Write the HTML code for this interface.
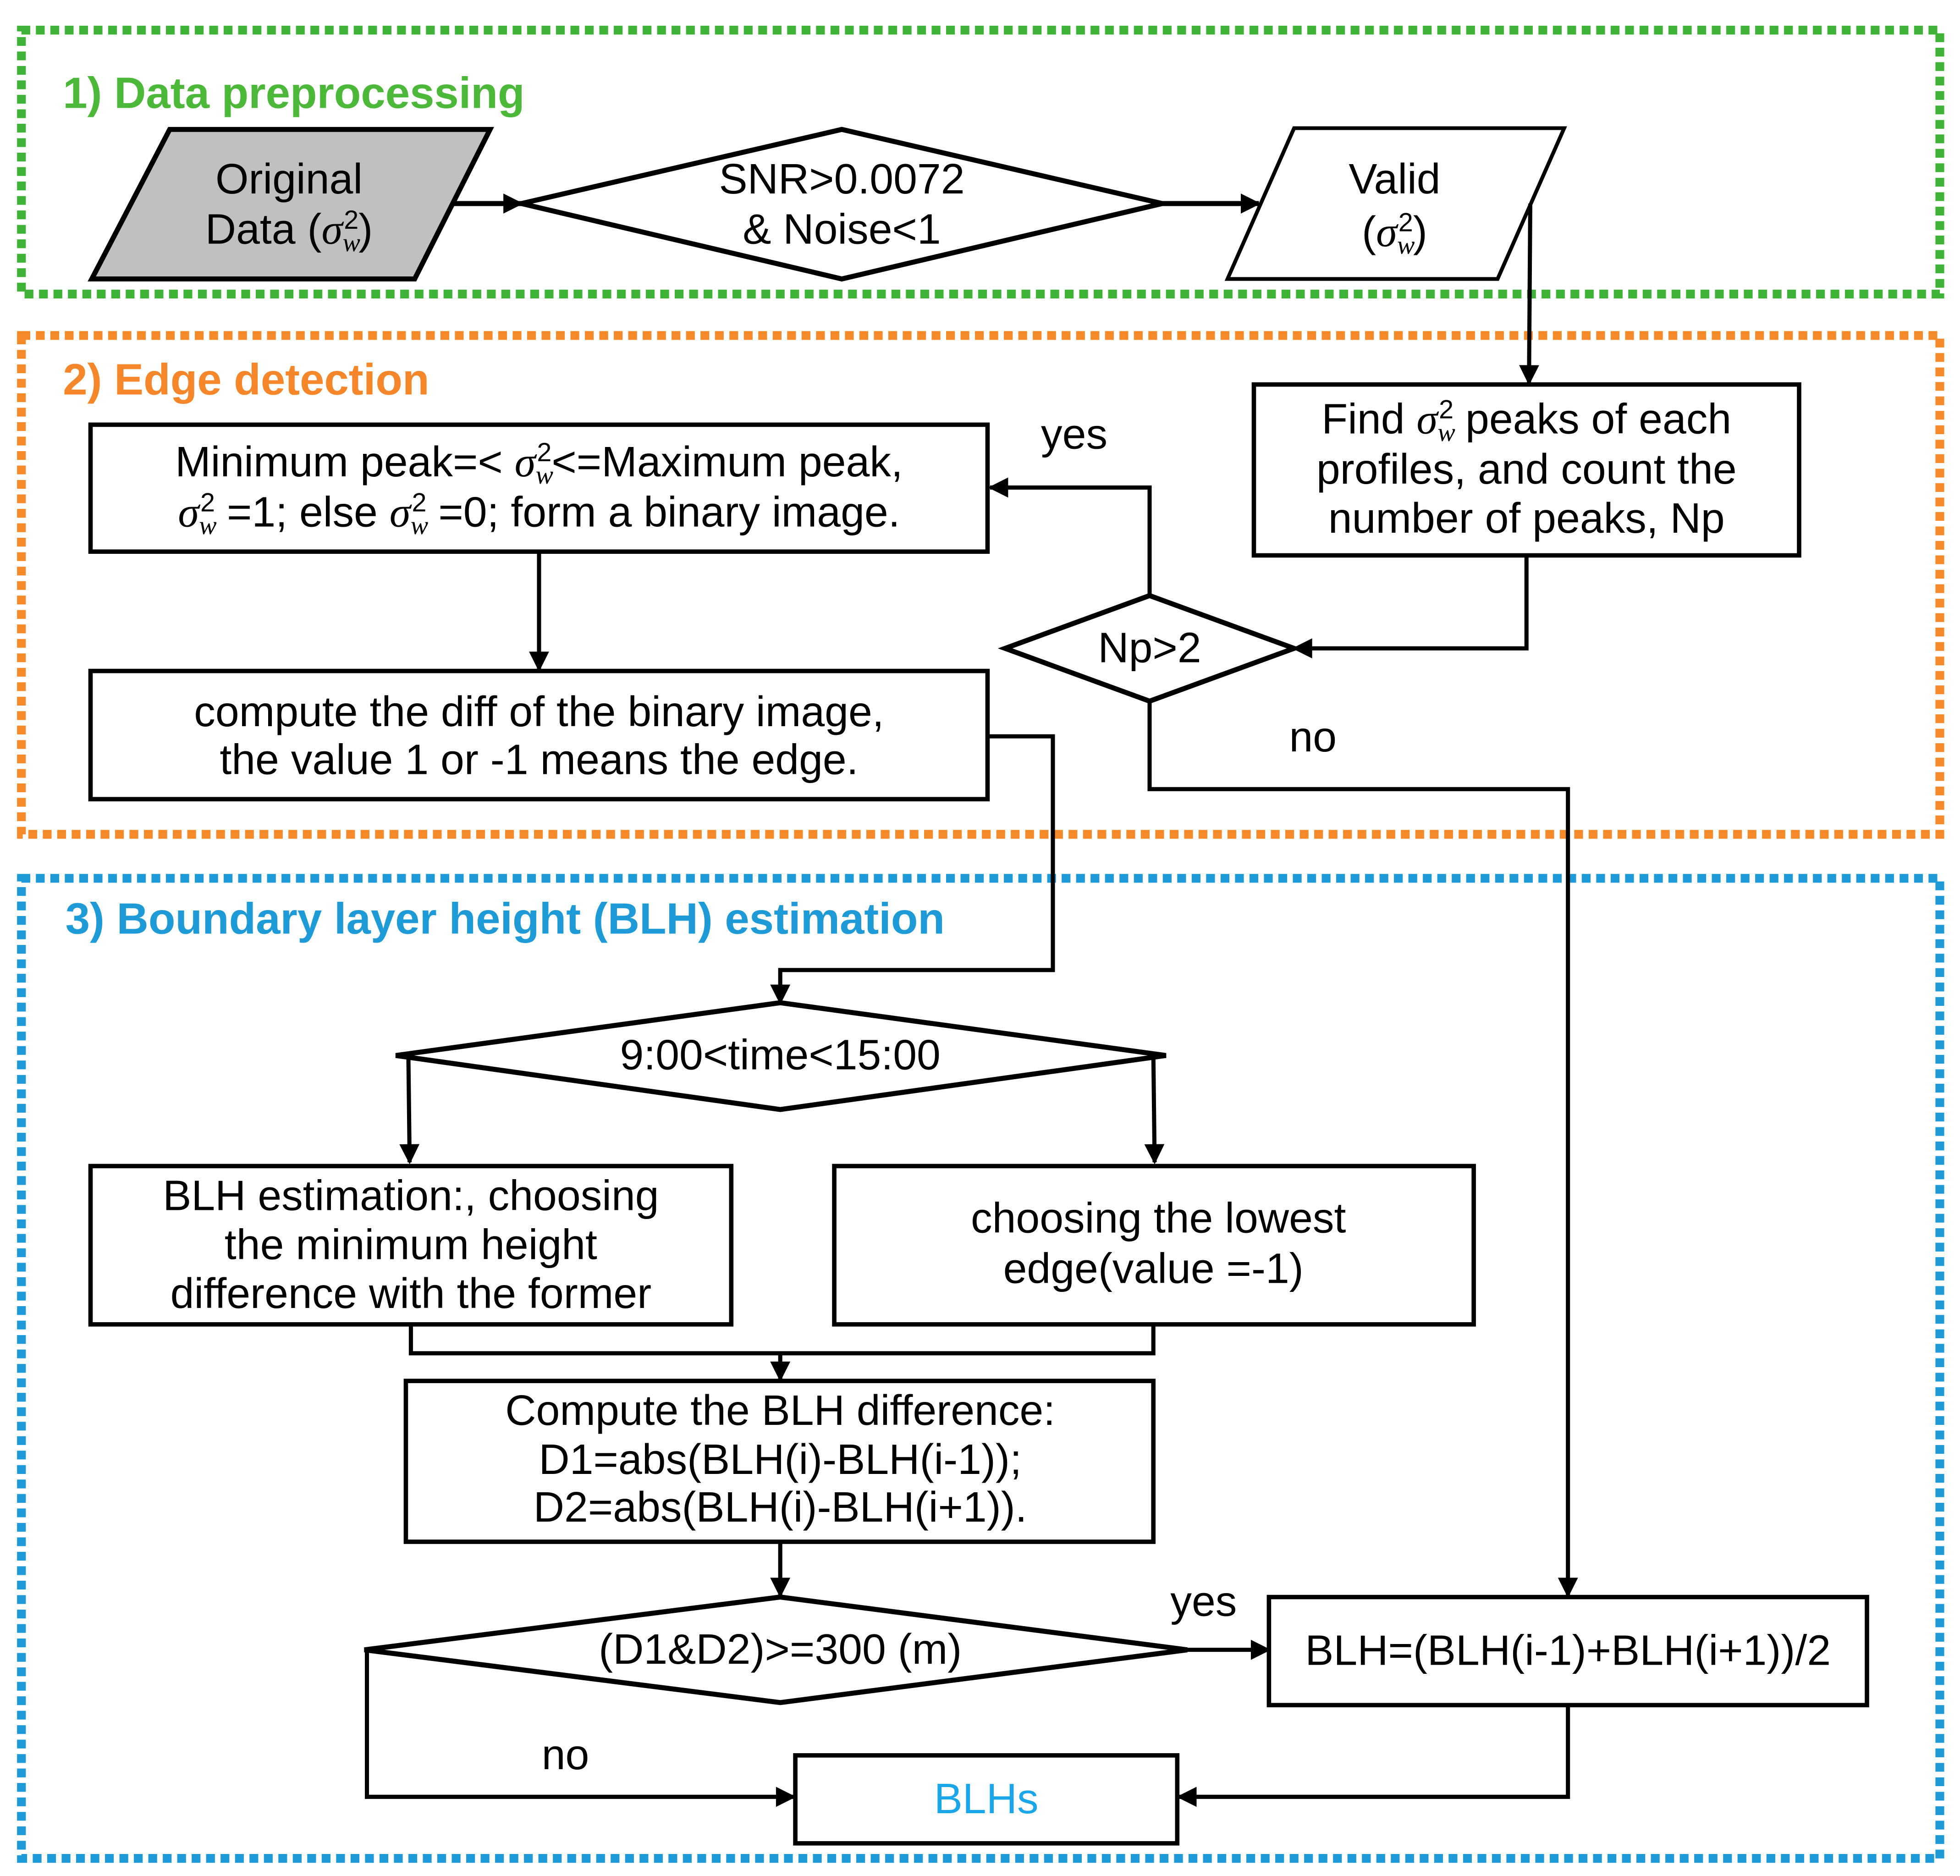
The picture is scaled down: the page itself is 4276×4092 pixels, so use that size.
<!DOCTYPE html>
<html><head><meta charset="utf-8"><style>
html,body{margin:0;padding:0;background:#fff;}
svg{display:block;}
text{font-family:"Liberation Sans","DejaVu Sans",sans-serif;}
</style></head><body>
<svg width="4276" height="4092" viewBox="0 0 1560 1493" xmlns="http://www.w3.org/2000/svg">
<defs>
<marker id="b" viewBox="0 0 10 10" markerWidth="18" markerHeight="16" refX="9" refY="5" orient="auto" markerUnits="userSpaceOnUse">
<path d="M0,0 L10,5 L0,10 z" fill="#000"/></marker>
</defs>
<rect width="1560" height="1493" fill="#fff"/>
<rect x="17" y="24" width="1527" height="210" fill="none" stroke="#3fb337" stroke-width="7" stroke-dasharray="7 4.5"/>
<rect x="17" y="267" width="1527" height="397" fill="none" stroke="#f58a2a" stroke-width="7" stroke-dasharray="7 4.5"/>
<rect x="17" y="699" width="1527" height="780" fill="none" stroke="#1f9ad8" stroke-width="7" stroke-dasharray="7 4.5"/>
<g font-weight="bold" font-size="35">
<text x="50" y="86" fill="#4cb83a">1)  Data preprocessing</text>
<text x="50" y="314" fill="#f5862a">2)  Edge detection</text>
<text x="52" y="743" fill="#1e9ad6">3)  Boundary layer height (BLH) estimation</text>
</g>
<g stroke="#000" stroke-width="4" fill="#fff">
<polygon points="135,103 390,103 330,222 73,222" fill="#c0c0c0"/>
<polygon points="415,162 670,103 925,162 670,222"/>
<polygon points="1030,102 1245,102 1192,222 977,222" stroke-width="3"/>
<rect x="998" y="306" width="434" height="136" stroke-width="3.5"/>
<rect x="72" y="338" width="714" height="101" stroke-width="3.5"/>
<polygon points="800,516 915,474 1030,516 915,558"/>
<rect x="72" y="534" width="714" height="102" stroke-width="3.5"/>
<polygon points="315,840 621,798 928,840 621,883"/>
<rect x="72" y="928" width="510" height="126" stroke-width="3.5"/>
<rect x="664" y="928" width="509" height="126" stroke-width="3.5"/>
<rect x="323" y="1099" width="595" height="128" stroke-width="3.5"/>
<polygon points="290,1313 621,1271 945,1313 621,1355"/>
<rect x="1010" y="1271" width="476" height="86" stroke-width="3.5"/>
<rect x="633" y="1397" width="304" height="70" stroke-width="3.5"/>
</g>
<g stroke="#000" stroke-width="3.3" fill="none">
<line x1="360" y1="162" x2="415" y2="162" stroke-width="4" marker-end="url(#b)"/>
<line x1="925" y1="162" x2="1002" y2="162" stroke-width="4" marker-end="url(#b)"/>
<polyline points="1218,162 1217,305" marker-end="url(#b)"/>
<polyline points="1215,442 1215,516 1030,516" marker-end="url(#b)"/>
<polyline points="915,474 915,388 788,388" marker-end="url(#b)"/>
<polyline points="429,439 429,533" marker-end="url(#b)"/>
<polyline points="786,586 838,586 838,772 621,772 621,798" marker-end="url(#b)"/>
<polyline points="915,558 915,628 1248,628 1248,1270" marker-end="url(#b)"/>
<polyline points="325,840 326,925" marker-end="url(#b)"/>
<polyline points="918,840 919,925" marker-end="url(#b)"/>
<polyline points="327,1054 327,1077 918,1077 918,1054"/>
<polyline points="621,1077 621,1098" marker-end="url(#b)"/>
<polyline points="621,1227 621,1270" marker-end="url(#b)"/>
<polyline points="945,1313 1010,1313" marker-end="url(#b)"/>
<polyline points="292,1313 292,1430 632,1430" marker-end="url(#b)"/>
<polyline points="1248,1357 1248,1430 938,1430" marker-end="url(#b)"/>
</g>
<g font-size="34" text-anchor="middle" fill="#000">
<text x="230" y="154">Original</text>
<text x="230" y="194">Data (<tspan font-family="Liberation Serif" font-style="italic">σ</tspan><tspan font-family="Liberation Serif" font-style="italic" font-size="21" dy="6">w</tspan><tspan font-size="21" dx="-13" dy="-18">2</tspan><tspan dy="12">)</tspan></text>
<text x="670" y="154">SNR&gt;0.0072</text>
<text x="670" y="194">&amp; Noise&lt;1</text>
<text x="1110" y="154">Valid</text>
<text x="1110" y="196">(<tspan font-family="Liberation Serif" font-style="italic">σ</tspan><tspan font-family="Liberation Serif" font-style="italic" font-size="21" dy="6">w</tspan><tspan font-size="21" dx="-13" dy="-18">2</tspan><tspan dy="12">)</tspan></text>
<text x="1215" y="345">Find <tspan font-family="Liberation Serif" font-style="italic">σ</tspan><tspan font-family="Liberation Serif" font-style="italic" font-size="21" dy="6">w</tspan><tspan font-size="21" dx="-13" dy="-18">2</tspan><tspan dy="12"> peaks of each</tspan></text>
<text x="1215" y="385">profiles, and count the</text>
<text x="1215" y="424">number of peaks, Np</text>
<text x="429" y="379">Minimum peak=&lt; <tspan font-family="Liberation Serif" font-style="italic">σ</tspan><tspan font-family="Liberation Serif" font-style="italic" font-size="21" dy="6">w</tspan><tspan font-size="21" dx="-13" dy="-18">2</tspan><tspan dy="12">&lt;=Maximum peak,</tspan></text>
<text x="429" y="419"><tspan font-family="Liberation Serif" font-style="italic">σ</tspan><tspan font-family="Liberation Serif" font-style="italic" font-size="21" dy="6">w</tspan><tspan font-size="21" dx="-13" dy="-18">2</tspan><tspan dy="12"> =1; else </tspan><tspan font-family="Liberation Serif" font-style="italic">σ</tspan><tspan font-family="Liberation Serif" font-style="italic" font-size="21" dy="6">w</tspan><tspan font-size="21" dx="-13" dy="-18">2</tspan><tspan dy="12"> =0; form a binary image.</tspan></text>
<text x="855" y="357">yes</text>
<text x="915" y="527">Np&gt;2</text>
<text x="1045" y="598">no</text>
<text x="429" y="578">compute the diff of the binary image,</text>
<text x="429" y="616">the value 1 or -1 means the edge.</text>
<text x="621" y="851">9:00&lt;time&lt;15:00</text>
<text x="327" y="963">BLH estimation:, choosing</text>
<text x="327" y="1002">the minimum height</text>
<text x="327" y="1041">difference with the former</text>
<text x="922" y="981">choosing the lowest</text>
<text x="918" y="1021">edge(value =-1)</text>
<text x="621" y="1134">Compute the BLH difference:</text>
<text x="621" y="1173">D1=abs(BLH(i)-BLH(i-1));</text>
<text x="621" y="1211">D2=abs(BLH(i)-BLH(i+1)).</text>
<text x="621" y="1324">(D1&amp;D2)&gt;=300 (m)</text>
<text x="958" y="1286">yes</text>
<text x="1248" y="1325">BLH=(BLH(i-1)+BLH(i+1))/2</text>
<text x="450" y="1408">no</text>
<text x="785" y="1443" fill="#1aa6e8">BLHs</text>
</g>
</svg>
</body></html>
